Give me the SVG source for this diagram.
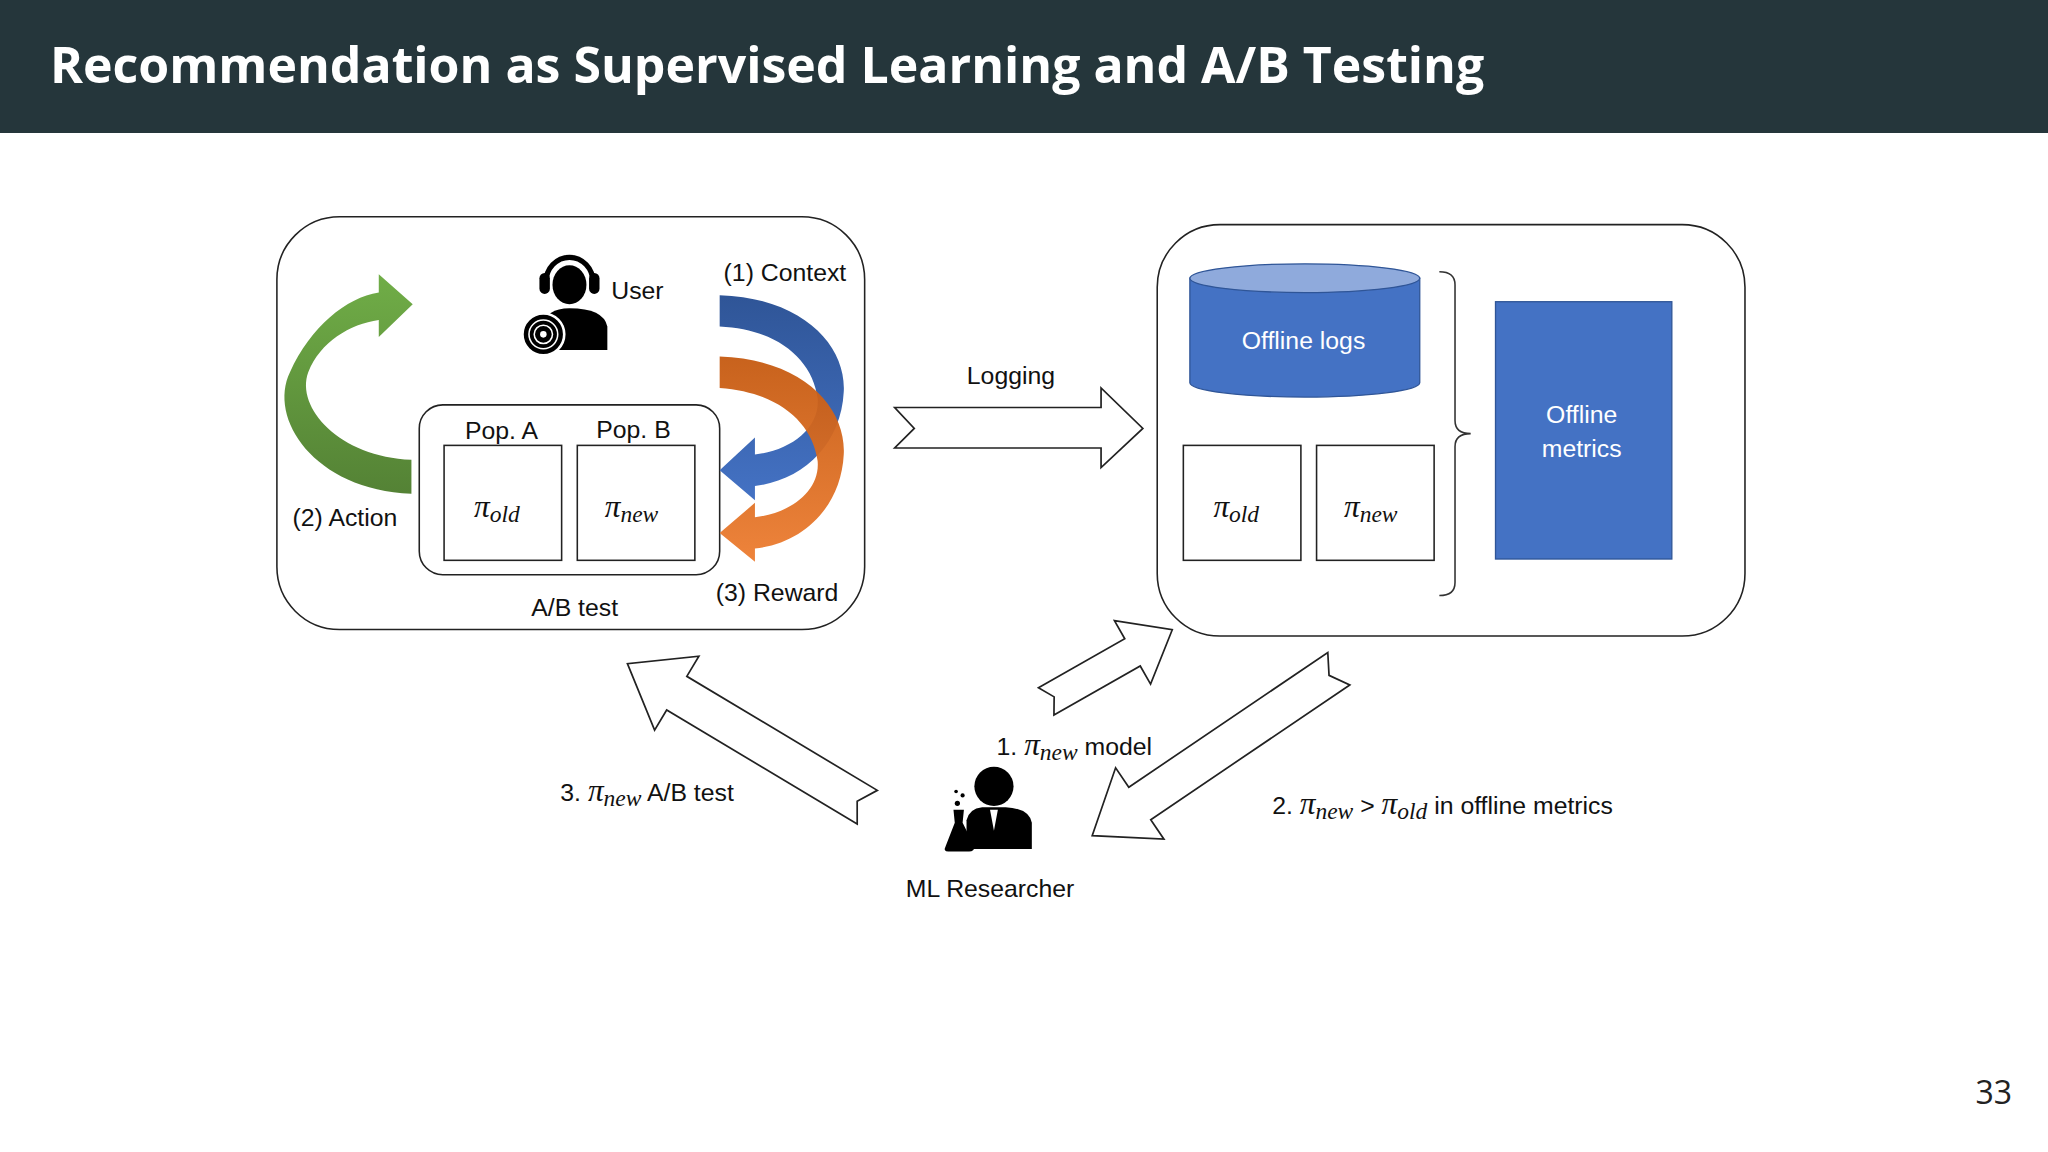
<svg xmlns="http://www.w3.org/2000/svg" width="2048" height="1152" viewBox="0 0 2048 1152">
<style>
.t{font-family:"Liberation Sans","Open Sans",sans-serif;font-size:19px;fill:#111}
.m{font-family:"Liberation Serif",serif;font-style:italic;font-size:24px;fill:#111}
.s{font-size:18px}
.box{fill:#fff;stroke:#222;stroke-width:1.2}
.blk{fill:#fff;stroke:#222;stroke-width:1.3;stroke-linejoin:miter}
.w{fill:#fff;font-family:"Liberation Sans","Open Sans",sans-serif;font-size:19px}
</style>
<defs>
<linearGradient id="gg" x1="0" y1="1" x2="0" y2="0"><stop offset="0" stop-color="#548235"/><stop offset="1" stop-color="#70ad47"/></linearGradient>
<linearGradient id="gb" x1="0" y1="0" x2="0" y2="1"><stop offset="0" stop-color="#2f5597"/><stop offset="1" stop-color="#4472c4"/></linearGradient>
<linearGradient id="go" x1="0" y1="0" x2="0" y2="1"><stop offset="0" stop-color="#c55a11"/><stop offset="1" stop-color="#ed7d31"/></linearGradient>
</defs>
<rect width="2048" height="1152" fill="#fff"/>
<rect width="2048" height="133" fill="#25363b"/>
<text x="50" y="83" font-family="'Open Sans','Liberation Sans',sans-serif" font-weight="700" font-size="50" fill="#fff">Recommendation as Supervised Learning and A/B Testing</text>
<text x="2012" y="1104" text-anchor="end" font-family="'Open Sans','Liberation Sans',sans-serif" font-size="32" fill="#222">33</text>
<g transform="scale(1.30612)">
<g id="abpanel">
<rect x="212" y="166" width="450" height="316" rx="48" class="box"/>
<rect x="321" y="310" width="230" height="130" rx="18" class="box"/>
<rect x="340" y="341" width="90" height="88" class="box"/>
<rect x="442" y="341" width="90" height="88" class="box"/>
<text x="384" y="336" text-anchor="middle" class="t">Pop. A</text>
<text x="485" y="335" text-anchor="middle" class="t">Pop. B</text>
<text x="363" y="396" class="m">π<tspan class="s" dy="4">old</tspan></text>
<text x="463" y="396" class="m">π<tspan class="s" dy="4">new</tspan></text>
<text x="440" y="472" text-anchor="middle" class="t">A/B test</text>
<text x="224" y="403" class="t">(2) Action</text>
<text x="554" y="215" class="t">(1) Context</text>
<text x="548" y="460" class="t">(3) Reward</text>
<text x="468" y="229" class="t">User</text>
</g>
<g id="user">
<path d="M418,216 A18,19 0 0 1 454,216" fill="none" stroke="#000" stroke-width="4"/>
<rect x="413" y="209" width="8" height="16" rx="4"/>
<rect x="451" y="209" width="8" height="16" rx="4"/>
<ellipse cx="436" cy="218" rx="13" ry="15"/>
<path d="M416,268 L416,250 Q418,236 436,236 Q462,236 465,250 L465,268 Z"/>
<circle cx="416" cy="256" r="16" fill="#000" stroke="#fff" stroke-width="2"/>
<circle cx="416" cy="256" r="11" fill="none" stroke="#fff" stroke-width="1.2"/>
<circle cx="416" cy="256" r="7" fill="none" stroke="#fff" stroke-width="1.2"/>
<circle cx="416" cy="256" r="2.5" fill="#fff"/>
</g>
<g id="cycle">
<path d="M315,378 C240,375 205,320 222,285 C238,250 265,228 290,224 L290,210 L316,233 L290,258 L290,245 C268,248 245,262 236,285 C226,312 260,350 315,352 Z" fill="url(#gg)"/>
<path d="M551,226 C615,228 648,265 646,300 C644,340 615,368 578,372 L578,383 L551,360 L578,335 L578,348 C605,345 628,328 626,305 C622,275 595,252 551,250 Z" fill="url(#gb)"/>
<path d="M551,273 C615,275 648,312 646,348 C644,388 615,416 578,420 L578,430 L551,408 L578,385 L578,396 C605,393 628,376 626,353 C622,323 595,300 551,297 Z" fill="url(#go)" opacity="0.95"/>
</g>
<g id="offline">
<rect x="886" y="172" width="450" height="315" rx="48" class="box"/>
<path d="M911,213 L911,293 A88,11 0 0 0 1087,293 L1087,213 Z" fill="#4472c4" stroke="#2f5597"/>
<ellipse cx="999" cy="213" rx="88" ry="11" fill="#8faadc" stroke="#2f5597"/>
<text x="998" y="267" text-anchor="middle" class="w">Offline logs</text>
<rect x="906" y="341" width="90" height="88" class="box"/>
<rect x="1008" y="341" width="90" height="88" class="box"/>
<text x="929" y="396" class="m">π<tspan class="s" dy="4">old</tspan></text>
<text x="1029" y="396" class="m">π<tspan class="s" dy="4">new</tspan></text>
<path d="M1102,208 Q1114,208 1114,218 L1114,322 Q1114,332 1126,332 Q1114,332 1114,342 L1114,446 Q1114,456 1102,456" fill="none" stroke="#333" stroke-width="1.2"/>
<rect x="1145" y="231" width="135" height="197" fill="#4472c4" stroke="#2f5597"/>
<text x="1211" y="324" text-anchor="middle" class="w">Offline</text>
<text x="1211" y="350" text-anchor="middle" class="w">metrics</text>
</g>
<g id="researcher">
<circle cx="761" cy="602" r="15"/>
<path d="M740,650 L740,628 Q742,619 752,618 L770,618 Q788,619 790,630 L790,650 Z"/>
<path d="M758,620 L761,636 L764,620 Z" fill="#fff"/>
<path d="M730,620 L738,620 L737,630 L746,648 Q746,652 742,652 L726,652 Q722,652 724,648 L731,630 Z"/>
<circle cx="733" cy="615" r="2"/><circle cx="737" cy="609" r="1.6"/><circle cx="732" cy="606" r="1.4"/>
<text x="758" y="687" text-anchor="middle" class="t">ML Researcher</text>
</g>
<g id="connectors">
<polygon class="blk" points="685,312 843,312 843,297 875,328 843,358 843,343 685,343 700,328"/>
<text x="774" y="294" text-anchor="middle" class="t">Logging</text>
<polygon class="blk" transform="translate(801,537) rotate(-29.6)" points="0,-12 76,-12 76,-28 111,0 76,28 76,12 0,12 7,0"/>
<polygon class="blk" transform="translate(664,618) rotate(210.9)" points="0,-15 170,-15 170,-33 214,0 170,33 170,15 0,15 9,0"/>
<polygon class="blk" transform="translate(1025,512) rotate(145.9)" points="0,-15 184,-15 184,-33 228,0 184,33 184,15 0,15 9,0"/>
<text x="763" y="578" class="t">1. <tspan class="m">π<tspan class="s" dy="4">new</tspan></tspan><tspan dy="-4"> model</tspan></text>
<text x="429" y="613" class="t">3. <tspan class="m">π<tspan class="s" dy="4">new</tspan></tspan><tspan dy="-4"> A/B test</tspan></text>
<text x="974" y="623" class="t">2. <tspan class="m">π<tspan class="s" dy="4">new</tspan></tspan><tspan dy="-4">  &gt;  </tspan><tspan class="m">π<tspan class="s" dy="4">old</tspan></tspan><tspan dy="-4"> in offline metrics</tspan></text>
</g>
</g>
</svg>
